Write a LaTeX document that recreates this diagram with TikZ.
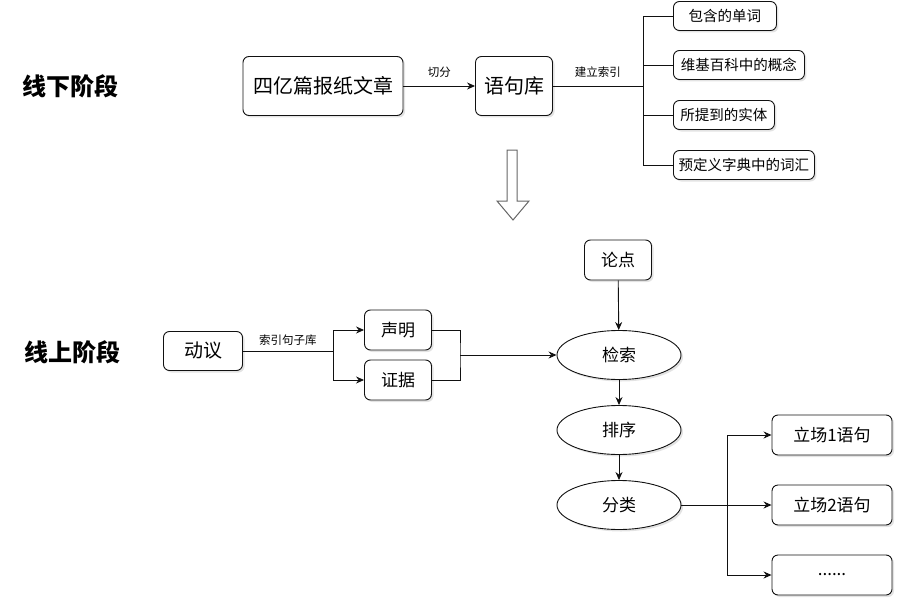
\documentclass[tikz,border=0pt]{standalone}
\usepackage{fontspec}
\setmainfont{Noto Sans CJK SC}
\usepackage{tikz}
\usetikzlibrary{positioning, arrows.meta, shadows, shapes.geometric}
\definecolor{ink}{HTML}{111111}
\definecolor{hollowline}{HTML}{666666}

\begin{document}
\begin{tikzpicture}[
      x=1pt, y=-1pt,
      >={Stealth[length=8pt,width=7pt]},
      card/.style={draw=ink, line width=0.9pt, rounded corners=6pt, fill=white,
                   inner sep=2pt, align=center,
                   drop shadow={shadow xshift=2pt, shadow yshift=-2pt, opacity=0.22}},
      big/.style={card, font=\fontsize{20}{24}\selectfont, minimum height=59pt},
      mid/.style={card, font=\fontsize{17}{20}\selectfont, minimum height=40pt},
      leaf/.style={card, font=\fontsize{14.5}{16}\selectfont, minimum height=29pt, anchor=west},
      stepoval/.style={draw=ink, line width=0.9pt, ellipse, fill=white,
                   minimum width=124pt, minimum height=49pt, inner sep=0pt,
                   font=\fontsize{17}{20}\selectfont,
                   drop shadow={shadow xshift=2pt, shadow yshift=-2pt, opacity=0.22}},
      phase/.style={font=\fontsize{24}{28}\selectfont\bfseries},
      elbl/.style={font=\fontsize{11.5}{13}\selectfont, inner sep=1pt},
      flow/.style={->, line width=0.9pt, draw=ink},
      wire/.style={line width=0.9pt, draw=ink},
      hollow/.style={draw=hollowline, line width=1pt, fill=white}
  ]
    \useasboundingbox (0,0) rectangle (904,607);

    % offline stage
    \node[phase] (offline) at (70,86) {线下阶段};
    \node[big, minimum width=160pt] (news) at (323,86) {四亿篇报纸文章};
    \node[big, minimum width=77pt] (corpus) at (514,86) {语句库};
    \coordinate (hub) at (643,86);
    \node[leaf, minimum width=103pt] (words)    at (673,16)  {包含的单词};
    \node[leaf, minimum width=131pt] (concepts) at (673,65)  {维基百科中的概念};
    \node[leaf, minimum width=101pt] (entities) at (673,115) {所提到的实体};
    \node[leaf, minimum width=141pt] (lexicon)  at (673,165) {预定义字典中的词汇};
    \draw[flow] (news) -- node[elbl, above=7pt]{切分} (corpus);
    \draw[wire] (corpus) -- node[elbl, above=7pt]{建立索引} (hub);
    \foreach \n in {words, concepts, entities, lexicon}
      \draw[wire] (hub) |- (\n.west);

    % hand-over
    \draw[hollow] (507,150) -- (517,150) -- (517,201) -- (529,201) -- (513,220)
                  -- (497,201) -- (507,201) -- cycle;

    % online stage
    \node[phase] (online) at (72,352) {线上阶段};
    \node[mid, minimum width=79pt, minimum height=39pt,
          font=\fontsize{19}{22}\selectfont] (motion) at (203,351) {动议};
    \coordinate (split) at (333,351);
    \node[mid, minimum width=67pt] (claim) at (398,330) {声明};
    \node[mid, minimum width=67pt] (evid)  at (398,380) {证据};
    \coordinate (join) at (460,355);
    \node[mid, minimum width=67pt] (topic) at (618,260) {论点};
    \node[stepoval] (retr) at (619,355) {检索};
    \node[stepoval] (rank) at (619,430) {排序};
    \node[stepoval] (cls)  at (619,505) {分类};
    \coordinate (fork) at (727,505);
    \node[mid, minimum width=120pt] (stance1) at (832,435) {立场1语句};
    \node[mid, minimum width=120pt] (stance2) at (832,505) {立场2语句};
    \node[mid, minimum width=120pt] (more)    at (832,575) {......};

    \draw[wire] (motion) -- node[elbl, above=4pt]{索引句子库} (split);
    \draw[flow] (split) |- (claim.west);
    \draw[flow] (split) |- (evid.west);
    \draw[wire] (claim.east) -| (join) |- (evid.east);
    \draw[flow] (join) -- (retr.west);
    \draw[flow] (topic) -- (retr);
    \draw[flow] (retr) -- (rank);
    \draw[flow] (rank) -- (cls);
    \draw[flow] (cls) -- (stance2);
    \draw[flow] (fork) |- (stance1.west);
    \draw[flow] (fork) |- (more.west);
  \end{tikzpicture}
\end{document}
